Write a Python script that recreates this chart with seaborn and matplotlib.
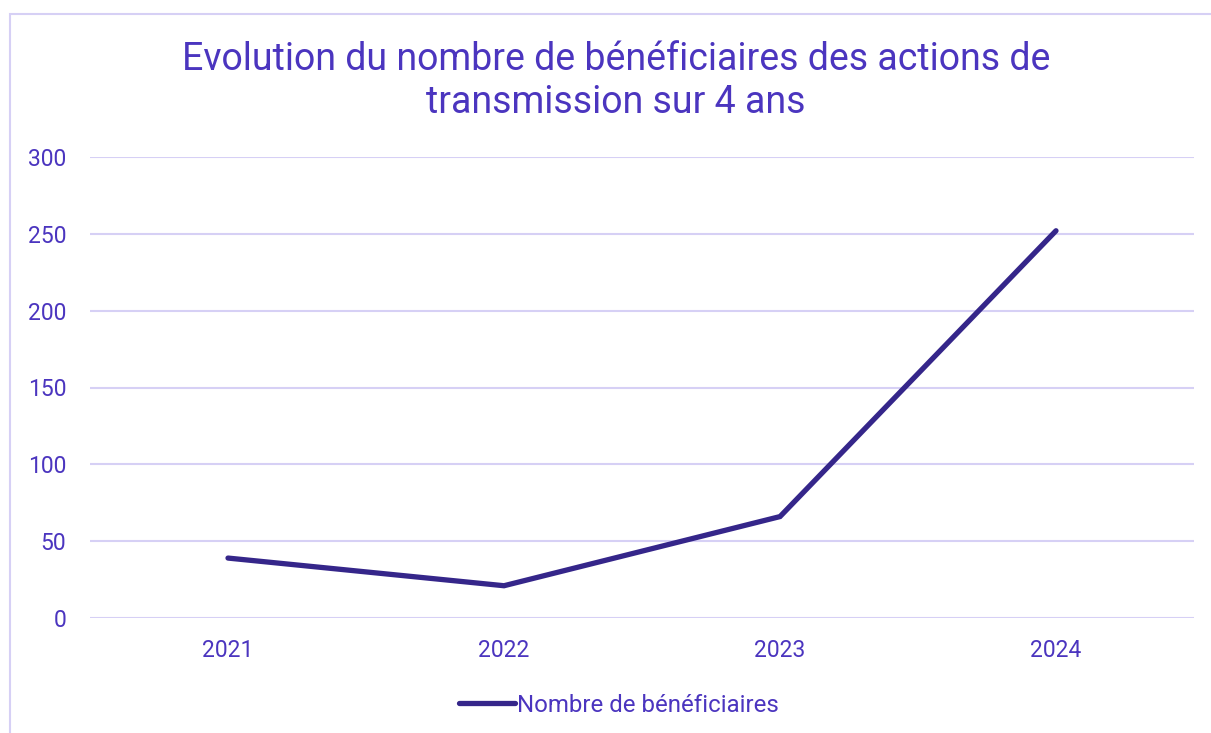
import matplotlib
matplotlib.use("Agg")
import matplotlib.pyplot as plt
import seaborn as sns
import pandas as pd
from matplotlib.patches import Rectangle

years = ["2021", "2022", "2023", "2024"]
beneficiaires = [39, 21, 66, 252]
y_ticks = [0, 50, 100, 150, 200, 250, 300]

txt_color = "#4B35BF"
line_color = "#35268A"
grid_color = "#D6D0F5"

sns.set_theme(style="white")
plt.rcParams["font.family"] = ["Roboto", "DejaVu Sans"]

df = pd.DataFrame({"annee": years, "nb": beneficiaires})

fig = plt.figure(figsize=(12.11, 7.33), dpi=100)
ax = fig.add_axes([90 / 1211, 1 - 618 / 733, 1104 / 1211, 461 / 733])

sns.lineplot(data=df, x="annee", y="nb", ax=ax, color=line_color, linewidth=3.8,
             solid_capstyle="round", solid_joinstyle="miter", label="Nombre de bénéficiaires",
             legend=False, zorder=3)

ax.set_xlim(-0.5, 3.5)
ax.set_ylim(0, 300)
ax.set_yticks(y_ticks)
ax.yaxis.grid(True, color=grid_color, linewidth=1.5)
ax.xaxis.grid(False)
for s in ax.spines.values():
    s.set_visible(False)
ax.set_xlabel("")
ax.set_ylabel("")
ax.tick_params(axis="both", length=0, labelsize=16.5, labelcolor=txt_color)
ax.tick_params(axis="y", pad=17)
ax.tick_params(axis="x", pad=15)

fig.suptitle("Evolution du nombre de bénéficiaires des actions de\ntransmission sur 4 ans",
             x=616 / 1211, y=1 - 41 / 733, va="top", fontsize=27, color=txt_color,
             linespacing=1.22)

handles, labels = ax.get_legend_handles_labels()
leg = fig.legend(handles, labels, loc="center", bbox_to_anchor=(619 / 1211, 1 - 705 / 733),
                 frameon=False, fontsize=17.3, handlelength=2.3, handletextpad=0.1)
for t in leg.get_texts():
    t.set_color(txt_color)

fig.patches.append(Rectangle((10 / 1211, -0.2), 1.5, 1.2 - 14 / 733,
                             transform=fig.transFigure, fill=False,
                             edgecolor=grid_color, linewidth=1.5))

fig.savefig("out.png", dpi=100)
